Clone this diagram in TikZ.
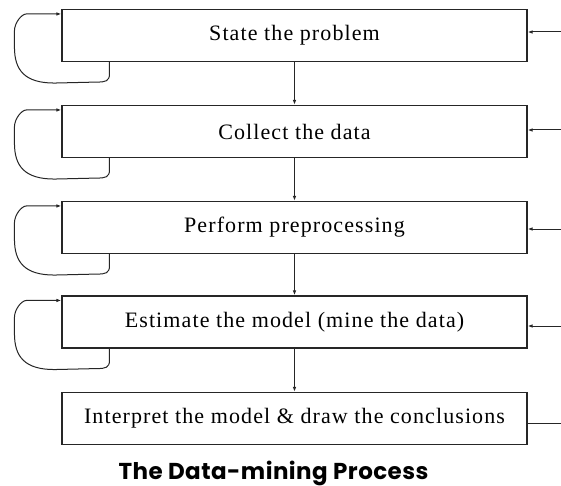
\documentclass[tikz,border=0pt]{standalone}
\usepackage{fontspec}
\setmainfont{Liberation Serif}[LetterSpace=5]
\newfontfamily\titlefont{Poppins}[LetterSpace=2]
\usetikzlibrary{arrows.meta,calc}
\tikzset{
  dmbox/.style={draw=black!85, line width=1.1pt, minimum width=465pt, minimum height=52pt, inner sep=0pt,
    font=\fontsize{22}{26}\selectfont},
  dmarr/.style={draw=black!85, line width=1pt, -{Latex[length=5pt,width=3.5pt]}},
  dmline/.style={draw=black!85, line width=1pt},
}
\newcommand\dmloop[1]{%
  \draw[dmarr] ($(#1.south west)+(48,0)$) -- ($(#1.south west)+(48,12)$)
    .. controls ($(#1.south west)+(48,19)$) and ($(#1.south west)+(44,20)$) .. ($(#1.south west)+(36,20)$)
    -- ($(#1.south west)+(-7,21)$)
    .. controls ($(#1.south west)+(-37,21)$) and ($(#1.south west)+(-47,8)$) .. ($(#1.south west)+(-47,-15)$)
    -- ($(#1.north west)+(-47,22)$)
    .. controls ($(#1.north west)+(-47,14)$) and ($(#1.north west)+(-40,5)$) .. ($(#1.north west)+(-35,5)$)
    -- ($(#1.north west)+(0,5)$);}
\begin{document}
\begin{tikzpicture}[x=1pt,y=-1pt]
\useasboundingbox[fill=white] (0,0) rectangle (561,486);
\node[dmbox] (b1) at (294.5,35.5) {State the problem};
\node[dmbox] (b2) at (294.5,131.5) {Collect the data};
\node[dmbox] (b3) at (294.5,227.5) {Perform preprocessing};
\node[dmbox] (b4) at (294.5,322) {Estimate the model (mine the data)};
\node[dmbox] (b5) at (294.5,418.5) {Interpret the model \& draw the conclusions};
\draw[dmarr] (b1.south) -- (b2.north);
\draw[dmarr] (b2.south) -- (b3.north);
\draw[dmarr] (b3.south) -- (b4.north);
\draw[dmarr] (b4.south) -- (b5.north);
\coordinate (r1) at (561,32);
\coordinate (r2) at (561,130);
\coordinate (r3) at (561,229);
\coordinate (r4) at (561,326);
\coordinate (r5) at (561,423);
\draw[dmarr] (r1) -- (r1 -| b1.east);
\draw[dmarr] (r2) -- (r2 -| b2.east);
\draw[dmarr] (r3) -- (r3 -| b3.east);
\draw[dmarr] (r4) -- (r4 -| b4.east);
\draw[dmline] (r5) -- (r5 -| b5.east);
\dmloop{b1}
\dmloop{b2}
\dmloop{b3}
\dmloop{b4}
\node[font=\titlefont\bfseries\fontsize{23}{27}\selectfont, anchor=base] (title) at (273.5,479) {The Data-mining Process};
\end{tikzpicture}
\end{document}
